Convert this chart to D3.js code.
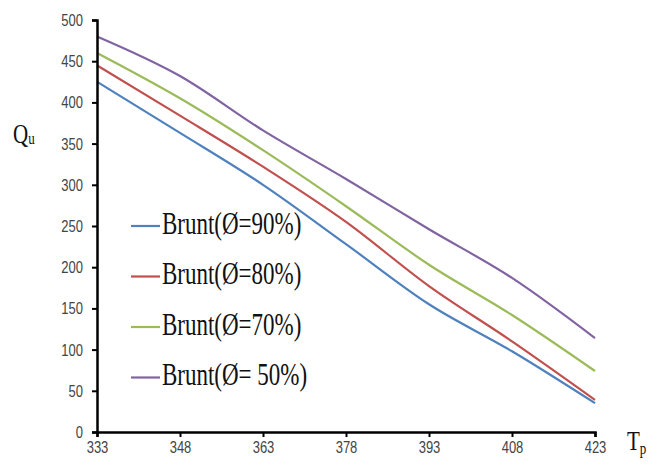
<!DOCTYPE html>
<html>
<head>
<meta charset="utf-8">
<script src="https://cdn.jsdelivr.net/npm/d3@7"></script>
<style>
  body { margin: 0; background: #fff; }
</style>
</head>
<body>
<svg width="665" height="472"></svg>
<script>
// x categories (T_p) and y ticks
const temps = [333, 348, 363, 378, 393, 408, 423];
const yTicks = [0, 50, 100, 150, 200, 250, 300, 350, 400, 450, 500];

// Q_u values
const brunt90 = [425, 363, 300, 228, 155, 98, 35];
const brunt80 = [445, 384, 322, 255, 177, 110, 39];
const brunt70 = [460, 405, 342, 274, 203, 142, 74];
const brunt50 = [480, 432, 366, 307, 246, 187, 114];

const seriesNames = ['Brunt(Ø=90%)', 'Brunt(Ø=80%)', 'Brunt(Ø=70%)', 'Brunt(Ø= 50%)'];
const seriesColors = ['#4F81BD', '#C0504D', '#9BBB59', '#8064A2'];

const series = [brunt90, brunt80, brunt70, brunt50].map((vals, i) => ({
  name: seriesNames[i],
  color: seriesColors[i],
  values: vals.map((v, j) => ({ t: temps[j], q: v }))
}));

const svg = d3.select('svg');

// scales
const x = d3.scaleLinear().domain([333, 423]).range([97, 595]);
const y = d3.scaleLinear().domain([0, 500]).range([432, 20]);

// lines
const line = d3.line().x(d => x(d.t)).y(d => y(d.q)).curve(d3.curveMonotoneX);

svg.append('g')
  .selectAll('path')
  .data(series)
  .join('path')
  .attr('fill', 'none')
  .attr('stroke', d => d.color)
  .attr('stroke-width', 2.2)
  .attr('d', d => line(d.values));

// axes
const yAxis = d3.axisLeft(y).tickValues(yTicks).tickSize(5).tickPadding(9);
const xAxis = d3.axisBottom(x).tickValues(temps).tickFormat(d3.format('d')).tickSize(5).tickPadding(8);

const yG = svg.append('g').attr('transform', 'translate(97,0)').call(yAxis);
const xG = svg.append('g').attr('transform', 'translate(0,432)').call(xAxis);

[yG, xG].forEach(g => {
  g.select('.domain').attr('stroke', '#000').attr('stroke-width', 2.5);
  g.selectAll('.tick line').attr('stroke', '#000').attr('stroke-width', 2);
  g.selectAll('.tick text')
    .attr('font-family', 'Liberation Sans, Arial, sans-serif')
    .attr('font-size', 13)
    .attr('fill', '#444');
});
// stretch tick labels vertically like the original
yG.selectAll('.tick text').attr('transform', 'scale(1,1.3)');
xG.selectAll('.tick text').attr('transform', 'scale(1,1.3)').attr('y', 7);

// axis titles
const qu = svg.append('text')
  .attr('transform', 'translate(13,143) scale(1,1.25)')
  .attr('font-family', 'Liberation Serif, Times New Roman, serif')
  .attr('font-size', 21)
  .attr('fill', '#111');
qu.append('tspan').text('Q');
qu.append('tspan').text('u').attr('font-size', 13).attr('dy', 1);

const tp = svg.append('text')
  .attr('transform', 'translate(627,450) scale(1,1.25)')
  .attr('font-family', 'Liberation Serif, Times New Roman, serif')
  .attr('font-size', 21)
  .attr('fill', '#111');
tp.append('tspan').text('T');
tp.append('tspan').text('p').attr('font-size', 13).attr('dy', 3);

// legend
const legend = svg.append('g')
  .selectAll('g')
  .data(series)
  .join('g')
  .attr('transform', (d, i) => `translate(131,${226 + i * 50.5})`);

legend.append('line')
  .attr('x1', 0).attr('x2', 29)
  .attr('stroke', d => d.color)
  .attr('stroke-width', 2.2);

legend.append('text')
  .attr('x', 31)
  .attr('transform', 'scale(1,1.38)')
  .attr('y', 5.5)
  .attr('font-family', 'Liberation Serif, Times New Roman, serif')
  .attr('font-size', 23)
  .attr('fill', '#111')
  .text(d => d.name);
</script>
</body>
</html>
